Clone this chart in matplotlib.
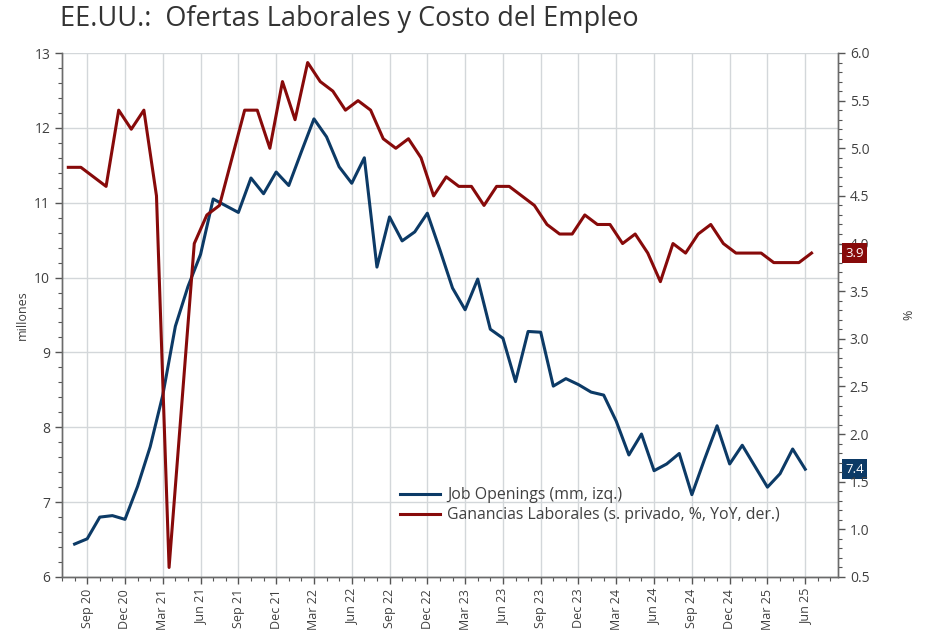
import numpy as np
import matplotlib
matplotlib.use("Agg")
import matplotlib.pyplot as plt
from matplotlib.ticker import MultipleLocator, FixedLocator
import matplotlib.transforms as mtransforms

plt.rcParams['font.family'] = ['Open Sans', 'DejaVu Sans']

# Job openings (millions), monthly Aug 20 .. Jun 25
jobs = [6.44, 6.51, 6.80, 6.82, 6.77,
        7.21, 7.74, 8.43, 9.35, 9.88, 10.31, 11.05, 10.96, 10.87, 11.33, 11.12, 11.41,
        11.23, 11.68, 12.12, 11.88, 11.48, 11.26, 11.60, 10.14, 10.81, 10.49, 10.61, 10.86,
        10.37, 9.86, 9.57, 9.98, 9.31, 9.19, 8.61, 9.28, 9.27, 8.55, 8.65, 8.57,
        8.47, 8.43, 8.08, 7.63, 7.91, 7.42, 7.51, 7.65, 7.10, 7.57, 8.02, 7.51,
        7.76, 7.48, 7.20, 7.38, 7.71, 7.44]

# Earnings YoY (%), monthly Aug 20 .. Jul 25
earn = [4.8, 4.8, 4.7, 4.6, 5.4,
        5.2, 5.4, 4.5, 0.6, 2.3, 4.0, 4.3, 4.4, 4.9, 5.4, 5.4, 5.0,
        5.7, 5.3, 5.9, 5.7, 5.6, 5.4, 5.5, 5.4, 5.1, 5.0, 5.1, 4.9,
        4.5, 4.7, 4.6, 4.6, 4.4, 4.6, 4.6, 4.5, 4.4, 4.2, 4.1, 4.1,
        4.3, 4.2, 4.2, 4.0, 4.1, 3.9, 3.6, 4.0, 3.9, 4.1, 4.2, 4.0,
        3.9, 3.9, 3.9, 3.8, 3.8, 3.8, 3.9]

tick_labels = ["Sep 20", "Dec 20", "Mar 21", "Jun 21", "Sep 21", "Dec 21", "Mar 22",
               "Jun 22", "Sep 22", "Dec 22", "Mar 23", "Jun 23", "Sep 23", "Dec 23",
               "Mar 24", "Jun 24", "Sep 24", "Dec 24", "Mar 25", "Jun 25"]

blue = '#0c3a66'
red = '#870a0a'
txt = '#404040'

# month index, Sep 20 = 0
x_jobs = np.arange(len(jobs)) - 1
x_earn = np.arange(len(earn)) - 1.5

fig = plt.figure(figsize=(9.3, 6.38), dpi=100)
ax = fig.add_axes([62 / 930, 1 - 577 / 638, (838 - 62) / 930, (577 - 53) / 638])
ax2 = ax.twinx()

ax.plot(x_jobs, jobs, color=blue, lw=2.2, label='Job Openings (mm, izq.)', zorder=3)
ax2.plot(x_earn, earn, color=red, lw=2.2, label='Ganancias Laborales (s. privado, %, YoY, der.)', zorder=3)

ax.set_xlim(-2, 59.6)
ax.set_ylim(6, 13)
ax2.set_ylim(0.5, 6.0)

ax.xaxis.set_major_locator(FixedLocator(np.arange(len(tick_labels)) * 3))
ax.set_xticklabels(tick_labels, rotation=90, fontsize=9, color=txt)
ax.xaxis.set_minor_locator(MultipleLocator(1))
ax.yaxis.set_major_locator(MultipleLocator(1))
ax.yaxis.set_minor_locator(MultipleLocator(0.2))
ax2.yaxis.set_major_locator(MultipleLocator(0.5))
ax2.yaxis.set_minor_locator(MultipleLocator(0.1))
ax2.yaxis.set_major_formatter(matplotlib.ticker.FormatStrFormatter('%.1f'))

ax.tick_params(axis='both', which='major', labelsize=10, labelcolor=txt, color='#555555', length=5, width=1)
ax.tick_params(axis='x', labelsize=9)
ax.tick_params(axis='both', which='minor', color='#555555', length=3, width=0.8)
ax2.tick_params(axis='y', which='major', labelsize=10, labelcolor=txt, color='#555555', length=5, width=1)
ax2.tick_params(axis='y', which='minor', color='#555555', length=3, width=0.8)

ax.grid(True, which='major', color='#d3d7da', lw=1)
ax.set_axisbelow(True)
for a in (ax, ax2):
    a.spines['top'].set_visible(False)
    for s in ('left', 'right', 'bottom'):
        a.spines[s].set_color('#6b6b6b')
        a.spines[s].set_linewidth(1)

ax.set_ylabel('millones', fontsize=9, color=txt, labelpad=4)
ax2.set_ylabel('%', fontsize=9, color=txt, labelpad=24)

fig.text(60 / 930, 1 - 19 / 638, 'EE.UU.:  Ofertas Laborales y Costo del Empleo',
         fontsize=19.5, color='#333333', va='center', ha='left')

h1, l1 = ax.get_legend_handles_labels()
h2, l2 = ax2.get_legend_handles_labels()
fig.legend(h1 + h2, l1 + l2, loc='upper left', bbox_to_anchor=(386 / 930, 1 - 473 / 638),
           frameon=False, fontsize=11.4, handlelength=2.5, handletextpad=0.45,
           labelspacing=0.25, labelcolor=txt)

# end-of-series value boxes on the right axis
trans2 = mtransforms.blended_transform_factory(ax2.transAxes, ax2.transData)
ax2.annotate(f'{earn[-1]:.1f}', xy=(1.0, earn[-1]), xycoords=trans2, xytext=(5, 0),
             textcoords='offset points', ha='left', va='center', fontsize=9.5, color='white',
             bbox=dict(boxstyle='square,pad=0.25', fc=red, ec='none'), zorder=10)
trans1 = mtransforms.blended_transform_factory(ax.transAxes, ax.transData)
ax.annotate(f'{jobs[-1]:.1f}', xy=(1.0, jobs[-1]), xycoords=trans1, xytext=(5, 0),
            textcoords='offset points', ha='left', va='center', fontsize=9.5, color='white',
            bbox=dict(boxstyle='square,pad=0.25', fc=blue, ec='none'), zorder=10,
            annotation_clip=False)

fig.savefig('out.png', dpi=100)
